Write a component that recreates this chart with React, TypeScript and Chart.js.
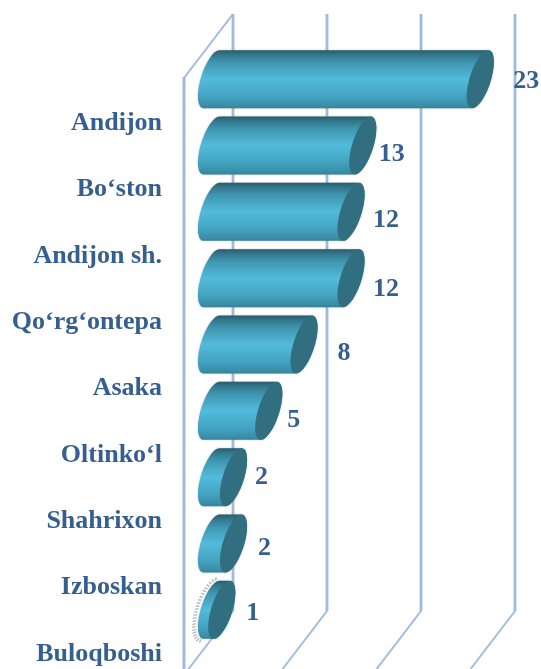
import React, { useEffect, useRef } from "react";
import { Chart, registerables } from "chart.js";

Chart.register(...registerables);

const categories = ["Andijon", "Bo‘ston", "Andijon sh.", "Qo‘rg‘ontepa", "Asaka", "Oltinko‘l", "Shahrixon", "Izboskan", "Buloqboshi"];
const counts = [23, 13, 12, 12, 8, 5, 2, 2, 1];
const labelShiftX = [72, 55, 61, 61, 66, 51, 54, 57, 57];
const labelShiftY = [-41, -34, -35, -32, -34, -34, -43, -38, -40];

const DEPTH_X = 49;
const DEPTH_Y = 64;
const BAR_SHIFT_X = 26;
const BAR_LEFT_SHIFT_X = 27.5;
const BAR_SHIFT_Y = -43;
const CAP_A = 11;
const CAP_SHEAR = 8;
const WALL_TOP = 14;
const WALL_BOTTOM = 611;
const LINE = "#a0bbdd";
const TEXT = "#365f91";
const FONT = '"Liberation Serif"';

const wallPlugin = {
  id: "wall",
  beforeDatasetsDraw(chart: any) {
    const { ctx, scales } = chart;
    const x = scales.x;
    ctx.save();
    ctx.strokeStyle = LINE;
    ctx.lineCap = "butt";
    ctx.lineWidth = 2.8;
    x.ticks.forEach((t: any) => {
      const px = x.getPixelForValue(t.value) + DEPTH_X;
      ctx.beginPath();
      ctx.moveTo(px, WALL_TOP);
      ctx.lineTo(px, WALL_BOTTOM);
      ctx.stroke();
      ctx.save();
      ctx.lineWidth = 2;
      ctx.beginPath();
      ctx.moveTo(px, WALL_BOTTOM);
      ctx.lineTo(px - DEPTH_X, WALL_BOTTOM + DEPTH_Y);
      ctx.stroke();
      ctx.restore();
    });
    const left = x.getPixelForValue(0);
    ctx.lineWidth = 2;
    ctx.beginPath();
    ctx.moveTo(left + DEPTH_X, WALL_TOP);
    ctx.lineTo(left, WALL_TOP + DEPTH_Y);
    ctx.stroke();
    ctx.lineWidth = 3;
    ctx.beginPath();
    ctx.moveTo(left, WALL_TOP + DEPTH_Y - 1);
    ctx.lineTo(left, 700);
    ctx.stroke();
    ctx.restore();
  },
};

const cylinderPlugin = {
  id: "cylinder",
  afterDatasetsDraw(chart: any) {
    const { ctx, scales } = chart;
    const meta = chart.getDatasetMeta(0);
    const xLeft = scales.x.getPixelForValue(0) + BAR_LEFT_SHIFT_X;
    meta.data.forEach((el: any, i: number) => {
      const h = el.height / 2;
      const cy = el.y + BAR_SHIFT_Y;
      const xRight = el.x + BAR_SHIFT_X;
      ctx.save();
      ctx.transform(1, 0, -CAP_SHEAR / h, 1, 0, cy);
      if (i === meta.data.length - 1) {
        ctx.save();
        ctx.strokeStyle = "rgba(130,130,130,0.55)";
        ctx.lineWidth = 3.5;
        ctx.setLineDash([1.5, 1.5]);
        ctx.beginPath();
        ctx.ellipse(xLeft - 2, 0, CAP_A + 2, h + 2, 0, Math.PI / 2, Math.PI * 1.5);
        ctx.stroke();
        ctx.restore();
      }
      ctx.shadowColor = "rgba(90,110,120,0.45)";
      ctx.shadowBlur = 2;
      const g = ctx.createLinearGradient(0, -h, 0, h);
      g.addColorStop(0, "#2a5a6b");
      g.addColorStop(0.08, "#33778c");
      g.addColorStop(0.22, "#3f97b2");
      g.addColorStop(0.5, "#52bbdb");
      g.addColorStop(0.8, "#43a3c0");
      g.addColorStop(0.95, "#3a8ea8");
      g.addColorStop(1, "#3a8196");
      ctx.fillStyle = g;
      ctx.beginPath();
      ctx.ellipse(xLeft, 0, CAP_A, h, 0, Math.PI * 1.5, Math.PI / 2, true);
      ctx.lineTo(xRight, h);
      ctx.ellipse(xRight, 0, CAP_A, h, 0, Math.PI / 2, Math.PI * 1.5, true);
      ctx.closePath();
      ctx.fill();
      ctx.shadowColor = "transparent";
      ctx.fillStyle = "#306e80";
      ctx.beginPath();
      ctx.ellipse(xRight, 0, CAP_A, h, 0, 0, Math.PI * 2);
      ctx.fill();
      ctx.restore();
    });
    ctx.save();
    ctx.fillStyle = TEXT;
    ctx.font = `bold 26px ${FONT}`;
    ctx.textAlign = "center";
    ctx.textBaseline = "middle";
    meta.data.forEach((el: any, i: number) => {
      ctx.fillText(String(counts[i]), el.x + labelShiftX[i], el.y + labelShiftY[i]);
    });
    ctx.restore();
  },
};

export default function App() {
  const ref = useRef<HTMLCanvasElement>(null);
  useEffect(() => {
    const chart = new Chart(ref.current!, {
      type: "bar",
      data: {
        labels: categories,
        datasets: [{ data: counts, backgroundColor: "transparent", borderWidth: 0, barThickness: 58 }],
      },
      options: {
        indexAxis: "y",
        responsive: false,
        animation: false,
        layout: { padding: { top: 89, bottom: 26, left: 0, right: 75 } },
        plugins: { legend: { display: false }, tooltip: { enabled: false } },
        scales: {
          x: {
            min: 0,
            max: 24,
            ticks: { stepSize: 8, display: false },
            grid: { display: false },
            border: { display: false },
          },
          y: {
            grid: { display: false },
            border: { display: false },
            afterFit(scale: any) {
              scale.width = 184;
            },
            ticks: {
              padding: 14,
              labelOffset: 1,
              color: TEXT,
              autoSkip: false,
              font: { family: FONT, size: 26, weight: "bold" },
            },
          },
        },
      },
      plugins: [wallPlugin, cylinderPlugin],
    } as any);
    return () => chart.destroy();
  }, []);
  return (
    <div style={{ position: "fixed", left: 0, top: 0, width: 541, height: 669, overflow: "hidden", background: "#fff" }}>
      <canvas ref={ref} width={541} height={720} style={{ display: "block" }} />
    </div>
  );
}
